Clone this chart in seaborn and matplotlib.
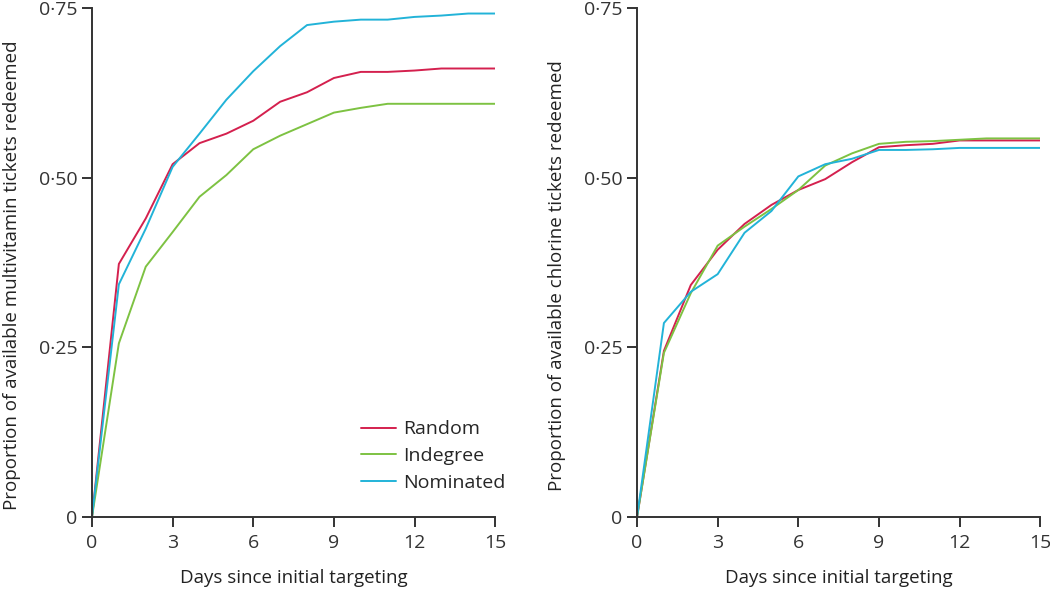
import matplotlib
matplotlib.use("Agg")
import matplotlib.pyplot as plt
import seaborn as sns
import pandas as pd

days = list(range(16))
strategies = ["Random", "Indegree", "Nominated"]
colors = ["#d4204e", "#7dc242", "#22b3d8"]

# Multivitamin tickets redeemed
mv_random = [0, 0.373, 0.44, 0.52, 0.551, 0.565, 0.584, 0.612, 0.626, 0.647,
             0.656, 0.656, 0.658, 0.661, 0.661, 0.661]
mv_indegree = [0, 0.256, 0.369, 0.42, 0.472, 0.504, 0.542, 0.562, 0.579, 0.596,
               0.603, 0.609, 0.609, 0.609, 0.609, 0.609]
mv_nominated = [0, 0.343, 0.425, 0.516, 0.565, 0.615, 0.657, 0.694, 0.725, 0.730,
                0.733, 0.733, 0.737, 0.739, 0.742, 0.742]

# Chlorine tickets redeemed
cl_random = [0, 0.245, 0.342, 0.394, 0.432, 0.46, 0.482, 0.498, 0.523, 0.545,
             0.548, 0.55, 0.555, 0.555, 0.555, 0.555]
cl_indegree = [0, 0.242, 0.33, 0.40, 0.428, 0.454, 0.482, 0.518, 0.536, 0.55,
               0.553, 0.554, 0.556, 0.558, 0.558, 0.558]
cl_nominated = [0, 0.286, 0.332, 0.358, 0.419, 0.451, 0.502, 0.52, 0.528, 0.541,
                0.541, 0.542, 0.544, 0.544, 0.544, 0.544]

yticks = [0, 0.25, 0.50, 0.75]
ytick_labels = ["0", "0·25", "0·50", "0·75"]
xticks = [0, 3, 6, 9, 12, 15]


def long_df(series):
    rows = []
    for name, vals in zip(strategies, series):
        for d, v in zip(days, vals):
            rows.append({"day": d, "value": v, "strategy": name})
    return pd.DataFrame(rows)


mv_df = long_df([mv_random, mv_indegree, mv_nominated])
cl_df = long_df([cl_random, cl_indegree, cl_nominated])

sns.set_style("ticks")
plt.rcParams["font.family"] = ["Open Sans", "DejaVu Sans"]

fig = plt.figure(figsize=(10.5, 5.91), dpi=100)
ax1 = fig.add_axes([0.0876, 0.125, 0.384, 0.8613])
ax2 = fig.add_axes([0.6067, 0.125, 0.384, 0.8613])

palette = dict(zip(strategies, colors))

for ax, df, ylabel in [
    (ax1, mv_df, "Proportion of available multivitamin tickets redeemed"),
    (ax2, cl_df, "Proportion of available chlorine tickets redeemed"),
]:
    sns.lineplot(data=df, x="day", y="value", hue="strategy", palette=palette,
                 hue_order=strategies, linewidth=1.4, ax=ax, legend=(ax is ax1))
    ax.set_xlim(0, 15)
    ax.set_ylim(0, 0.75)
    ax.set_xticks(xticks)
    ax.set_yticks(yticks)
    ax.set_yticklabels(ytick_labels)
    ax.tick_params(labelsize=14, colors="#333333", length=7.5, width=1.4,
                   pad=3)
    ax.tick_params(axis="x", pad=5)
    ax.set_xlabel("Days since initial targeting", fontsize=13.5, color="#222222",
                  labelpad=12)
    ax.set_ylabel(ylabel, fontsize=13.5, color="#222222")
    ax.yaxis.set_label_coords(-0.176, 0.475)
    for s in ["top", "right"]:
        ax.spines[s].set_visible(False)
    for s in ["left", "bottom"]:
        ax.spines[s].set_linewidth(1.4)
        ax.spines[s].set_color("#333333")
    ax.margins(0)

leg = ax1.legend(loc="lower right", bbox_to_anchor=(1.07, 0.015), frameon=False,
                 fontsize=14, handlelength=1.8, handletextpad=0.4,
                 labelspacing=0.45)

fig.savefig("out.png", dpi=100)
